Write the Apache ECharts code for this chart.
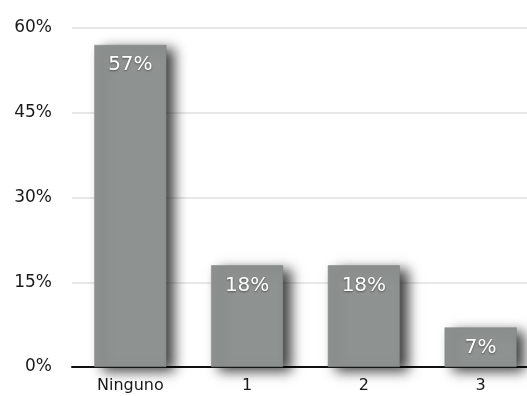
<!DOCTYPE html>
<html>
<head>
<meta charset="utf-8">
<script src="https://cdn.jsdelivr.net/npm/echarts@6/dist/echarts.min.js"></script>
<style>
  html, body { margin: 0; padding: 0; background: #ffffff; overflow: hidden; }
  /* the plot runs a little past the right edge of the window */
  #chart { width: 539px; height: 396px; }
</style>
</head>
<body>
<div id="chart"></div>
<script>
// Share of respondents by count
const categories = ['Ninguno', '1', '2', '3'];
const shares = [57, 18, 18, 7];
const yTicks = [0, 15, 30, 45, 60];

const chart = echarts.init(document.getElementById('chart'), null, { renderer: 'canvas' });

const font = 'DejaVu Sans, Verdana, sans-serif';

chart.setOption({
  animation: false,
  backgroundColor: '#ffffff',
  grid: { left: 72, right: 0, top: 28, bottom: 29, containLabel: false },
  xAxis: {
    type: 'category',
    data: categories,
    axisLine: { show: true, lineStyle: { color: '#111111', width: 2 } },
    axisTick: { show: false },
    axisLabel: {
      color: '#1a1a1a',
      fontFamily: font,
      fontSize: 16,
      margin: 11
    }
  },
  yAxis: {
    type: 'value',
    min: yTicks[0],
    max: yTicks[yTicks.length - 1],
    interval: 15,
    axisLine: { show: false },
    axisTick: { show: false },
    splitLine: { lineStyle: { color: '#e8e8e8', width: 2 } },
    axisLabel: {
      color: '#1a1a1a',
      fontFamily: font,
      fontSize: 17,
      margin: 20,
      formatter: v => v + '%'
    }
  },
  series: [{
    type: 'bar',
    data: shares,
    barWidth: 72,
    itemStyle: {
      color: '#8e9391',
      borderColor: '#7d8280',
      borderWidth: 0.5,
      shadowColor: 'rgba(0,0,0,0.75)',
      shadowBlur: 12,
      shadowOffsetX: 8,
      shadowOffsetY: 4
    },
    label: {
      show: true,
      position: 'insideTop',
      distance: 10,
      color: '#ffffff',
      fontFamily: font,
      fontSize: 20,
      textShadowColor: 'rgba(0,0,0,0.45)',
      textShadowBlur: 2,
      textShadowOffsetY: 1,
      formatter: p => p.value + '%'
    }
  }]
});
</script>
</body>
</html>
